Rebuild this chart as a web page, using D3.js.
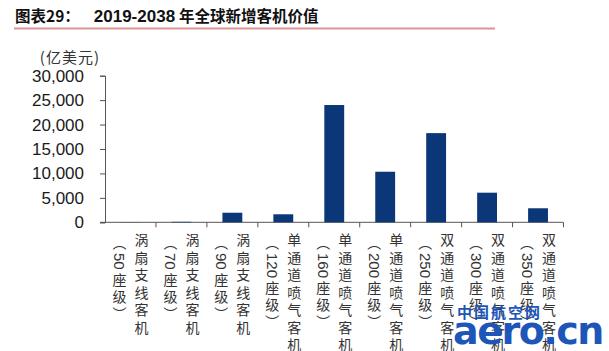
<!DOCTYPE html>
<html>
<head>
<meta charset="utf-8">
<script src="https://cdn.jsdelivr.net/npm/d3@7"></script>
<style>
  html, body { margin: 0; padding: 0; background: #fff; }
  svg { display: block; }
  .vlab { writing-mode: vertical-rl; text-orientation: mixed; font-family: "Noto Sans CJK SC", sans-serif; }
</style>
</head>
<body>
<div id="chart"></div>
<script>
  // chart data
  const categories = ['50', '70', '90', '120', '160', '200', '250', '300', '350'];
  const typeNames = ['涡扇支线客机', '涡扇支线客机', '涡扇支线客机', '单通道喷气客机', '单通道喷气客机',
    '单通道喷气客机', '双通道喷气客机', '双通道喷气客机', '双通道喷气客机'];
  const values = [20, 100, 1960, 1640, 24000, 10350, 18250, 6060, 2870];
  const yTicks = [0, 5000, 10000, 15000, 20000, 25000, 30000];

  const W = 609, H = 351;
  const svg = d3.select('#chart').append('svg')
    .attr('width', W)
    .attr('height', H);

  // title + red rule
  const title = svg.append('text')
    .attr('x', 15)
    .attr('y', 22)
    .attr('font-family', '"Noto Sans CJK SC", sans-serif')
    .attr('font-weight', 700)
    .attr('font-size', 15.5)
    .attr('fill', '#111');
  title.append('tspan').text('图表29：');
  title.append('tspan').attr('dx', 14).attr('font-family', '"Liberation Sans", Arial, sans-serif').attr('font-size', 17).text('2019-2038');
  title.append('tspan').attr('dx', 4).text('年全球新增客机价值');

  svg.append('line')
    .attr('x1', 14).attr('x2', 495)
    .attr('y1', 28.5).attr('y2', 28.5)
    .attr('stroke', '#d99595')
    .attr('stroke-width', 2);

  const x = d3.scaleBand()
    .domain(categories)
    .range([105, 563.5])
    .paddingInner(0.61)
    .paddingOuter(0.305);

  const y = d3.scaleLinear()
    .domain([0, 30000])
    .range([222.3, 75.7]);

  // unit label
  svg.append('text')
    .attr('x', 100)
    .attr('y', 63)
    .attr('text-anchor', 'end')
    .attr('font-family', '"Noto Sans CJK SC", sans-serif')
    .attr('font-size', 15)
    .attr('letter-spacing', 1)
    .attr('fill', '#333')
    .text('(亿美元)');

  // y axis
  const yAxis = svg.append('g')
    .attr('transform', 'translate(105,0)')
    .call(d3.axisLeft(y).tickValues(yTicks).tickSize(5).tickPadding(16)
      .tickFormat(d3.format(',')));
  yAxis.select('.domain').attr('stroke', '#555');
  yAxis.selectAll('.tick line').attr('stroke', '#555');
  yAxis.selectAll('.tick text')
    .attr('font-family', '"Liberation Sans", Arial, sans-serif')
    .attr('font-size', 17)
    .attr('fill', '#1a1a1a');

  // x axis line with tick marks at band edges
  const edges = categories.map(c => x(c) - x.step() * x.paddingInner() / 2);
  edges.push(563.5);
  const xg = svg.append('g');
  xg.append('line')
    .attr('x1', 100).attr('x2', 563.5)
    .attr('y1', y(0)).attr('y2', y(0))
    .attr('stroke', '#555');
  xg.selectAll('line.tk')
    .data(edges.slice(1))
    .join('line')
    .attr('class', 'tk')
    .attr('x1', d => d).attr('x2', d => d)
    .attr('y1', y(0)).attr('y2', y(0) + 5)
    .attr('stroke', '#555');

  // bars
  svg.append('g').selectAll('rect')
    .data(values)
    .join('rect')
    .attr('x', (d, i) => x(categories[i]))
    .attr('width', x.bandwidth())
    .attr('y', d => y(d))
    .attr('height', d => y(0) - y(d))
    .attr('fill', '#0b3778');

  // vertical category labels
  const lab = svg.append('g');
  categories.forEach((c, i) => {
    const cx = x(c) + x.bandwidth() / 2;
    lab.append('text')
      .attr('class', 'vlab')
      .attr('x', cx + 11)
      .attr('y', 233)
      .attr('font-size', 14)
      .attr('letter-spacing', 3.5)
      .attr('fill', '#333')
      .text(typeNames[i]);
    const t2 = lab.append('text')
      .attr('class', 'vlab')
      .attr('x', cx - 11)
      .attr('y', 236)
      .attr('font-size', 14)
      .attr('fill', '#333');
    t2.append('tspan').attr('letter-spacing', 3).text('（');
    t2.append('tspan').attr('font-family', '"Liberation Sans", Arial, sans-serif')
      .attr('font-size', 15).attr('letter-spacing', 0).text(c);
    t2.append('tspan').attr('dy', 3).attr('letter-spacing', 3).text('座级）');
  });

  // watermark
  const wm = svg.append('g').attr('fill', '#1d56b8');
  wm.append('text')
    .attr('x', 457).attr('y', 318)
    .attr('font-family', '"Noto Sans CJK SC", sans-serif')
    .attr('font-weight', 700)
    .attr('font-size', 15)
    .attr('letter-spacing', 2)
    .text('中国航空网');
  wm.append('text')
    .attr('x', 453).attr('y', 344)
    .attr('font-family', '"DejaVu Sans", sans-serif')
    .attr('font-weight', 700)
    .attr('font-size', 38)
    .attr('letter-spacing', -1.5)
    .text('aero.cn');
</script>
</body>
</html>
